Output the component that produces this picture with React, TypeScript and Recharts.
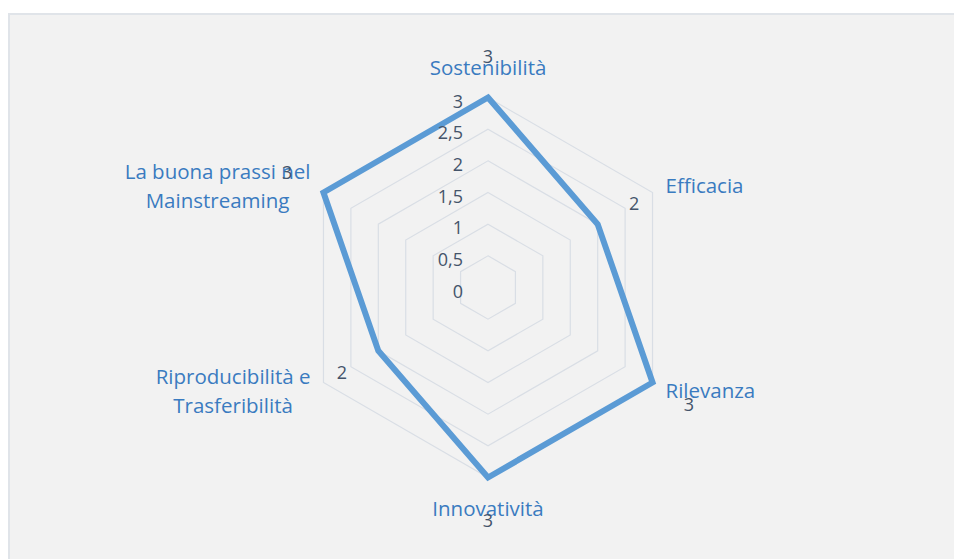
import { RadarChart, Radar, PolarGrid, PolarAngleAxis, PolarRadiusAxis, LabelList } from "recharts";

const categories = [
  "Sostenibilità",
  "Efficacia",
  "Rilevanza",
  "Innovatività",
  "Riproducibilità e Trasferibilità",
  "La buona prassi nel Mainstreaming",
];
const scores = [3, 2, 3, 3, 2, 3];
const radiusTicks = [0, 0.5, 1, 1.5, 2, 2.5, 3];

const data = categories.map((name, i) => ({ name, score: scores[i] }));

const CX = 478;
const CY = 272.5;
const R = 190;
const FONT = "'Open Sans', sans-serif";
const CAT_SIZE = 20.5;
const NUM_SIZE = 18;
const BLUE = "#3a7bc0";
const DARK = "#44546a";

let ctx: CanvasRenderingContext2D | null = null;
function measure(text: string) {
  if (!ctx) ctx = document.createElement("canvas").getContext("2d");
  if (!ctx) return text.length * 10;
  ctx.font = `${CAT_SIZE}px ${FONT}`;
  return ctx.measureText(text).width;
}

function wrap(text: string, maxW = 230) {
  const words = text.split(" ");
  const lines: string[] = [];
  let cur = "";
  for (const w of words) {
    const next = cur ? cur + " " + w : w;
    if (cur && measure(next) > maxW) {
      lines.push(cur);
      cur = w;
    } else cur = next;
  }
  if (cur) lines.push(cur);
  return lines;
}

// category labels, wrapped and placed just outside the outer ring
function AngleTick(props: any) {
  const { payload } = props;
  const ang = (payload.coordinate * Math.PI) / 180;
  const cos = Math.cos(ang);
  const sin = Math.sin(ang);
  const lines = wrap(String(payload.value));
  const lh = 29;
  const blockH = lines.length * lh;
  const d = 205;
  const px = CX + d * cos;
  let py = CY - d * sin;
  const maxW = Math.max(...lines.map(measure));
  let bx = px;
  if (Math.abs(cos) < 0.1) {
    py += (sin > 0 ? -1 : 1) * (blockH / 2 + 1);
  } else if (cos > 0) {
    bx = px + maxW / 2;
  } else {
    bx = px - maxW / 2;
  }
  return (
    <g>
      {lines.map((l, i) => (
        <text
          key={i}
          x={bx}
          y={py - blockH / 2 + lh / 2 + i * lh}
          textAnchor="middle"
          dominantBaseline="central"
          fill={BLUE}
          fontSize={CAT_SIZE}
          fontFamily={FONT}
        >
          {l}
        </text>
      ))}
    </g>
  );
}

function RadiusTick(props: any) {
  const { x, y, payload } = props;
  return (
    <text
      x={x - 25}
      y={y + 3}
      textAnchor="end"
      dominantBaseline="central"
      fill={DARK}
      fontSize={NUM_SIZE}
      fontFamily={FONT}
    >
      {String(payload.value).replace(".", ",")}
    </text>
  );
}

function ValueLabel(props: any) {
  const x = props.x ?? props.viewBox?.x;
  const y = props.y ?? props.viewBox?.y;
  if (x == null || y == null) return null;
  const dx = x - CX;
  const dy = y - CY;
  const len = Math.hypot(dx, dy) || 1;
  return (
    <text
      x={x + (dx / len) * 42}
      y={y + (dy / len) * 42}
      textAnchor="middle"
      dominantBaseline="central"
      fill={DARK}
      fontSize={NUM_SIZE}
      fontFamily={FONT}
    >
      {props.value}
    </text>
  );
}

export default function App() {
  return (
    <div
      style={{
        position: "fixed",
        left: 8,
        top: 13,
        right: 0,
        bottom: 0,
        background: "#f2f2f2",
        borderTop: "2px solid #e0e4e9",
        borderLeft: "2px solid #e0e4e9",
        boxSizing: "border-box",
      }}
    >
      <RadarChart
        width={944}
        height={544}
        data={data}
        cx={CX}
        cy={CY}
        outerRadius={R}
        startAngle={90}
        endAngle={-270}
        margin={{ top: 0, right: 0, bottom: 0, left: 0 }}
      >
        <PolarGrid gridType="polygon" radialLines={false} stroke="#d9dee5" strokeWidth={1.2} />
        <PolarAngleAxis dataKey="name" tick={AngleTick} tickLine={false} axisLine={false} />
        <PolarRadiusAxis
          angle={90}
          domain={[0, 3]}
          ticks={radiusTicks as any}
          tickCount={7}
          tick={RadiusTick}
          axisLine={false}
          tickLine={false}
        />
        <Radar
          dataKey="score"
          stroke="#5b9bd5"
          strokeWidth={6}
          fill="none"
          fillOpacity={0}
          dot={false}
          isAnimationActive={false}
        >
          <LabelList dataKey="score" content={ValueLabel} />
        </Radar>
      </RadarChart>
    </div>
  );
}
